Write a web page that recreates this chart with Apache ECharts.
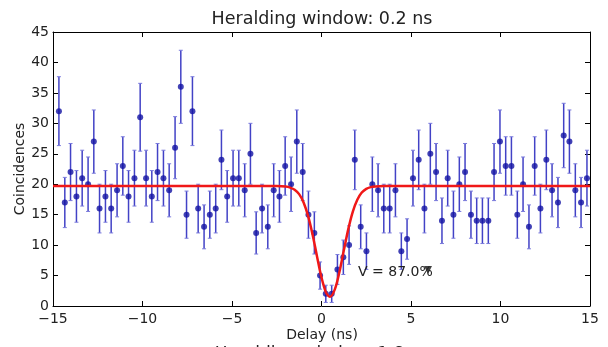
<!DOCTYPE html>
<html>
<head>
<meta charset="utf-8">
<script src="https://cdn.jsdelivr.net/npm/echarts@6/dist/echarts.min.js"></script>
<style>
    html, body { margin: 0; padding: 0; background: #fff; }
    #chart-dip { width: 608px; height: 347px; }
</style>
</head>
<body>
<div id="chart-dip"></div>
<script>
// 延迟 (ns)
var delays = [
    -14.67, -14.34, -14.02, -13.69, -13.37, -13.04, -12.72, -12.40, -12.07, -11.75,
    -11.42, -11.10, -10.78, -10.45, -10.13, -9.80, -9.48, -9.16, -8.83, -8.51,
    -8.18, -7.86, -7.54, -7.21, -6.89, -6.56, -6.24, -5.91, -5.59, -5.27,
    -4.94, -4.62, -4.29, -3.97, -3.65, -3.32, -3.00, -2.67, -2.35, -2.03,
    -1.70, -1.38, -1.05, -0.73, -0.40, -0.08, 0.24, 0.57, 0.89, 1.22,
    1.54, 1.86, 2.19, 2.51, 2.84, 3.16, 3.48, 3.81, 4.13, 4.46,
    4.78, 5.11, 5.43, 5.75, 6.08, 6.40, 6.73, 7.05, 7.37, 7.70,
    8.02, 8.35, 8.67, 8.99, 9.32, 9.64, 9.97, 10.29, 10.61, 10.94,
    11.26, 11.59, 11.91, 12.23, 12.56, 12.88, 13.21, 13.53, 13.85, 14.18,
    14.50, 14.83
];
// 符合计数
var counts = [
    32, 17, 22, 18, 21, 20, 27, 16, 18, 16,
    19, 23, 18, 21, 31, 21, 18, 22, 21, 19,
    26, 36, 15, 32, 16, 13, 15, 16, 24, 18,
    21, 21, 19, 25, 12, 16, 13, 19, 18, 23,
    20, 27, 22, 15, 12, 5, 2, 2, 6, 8,
    10, 24, 13, 9, 20, 19, 16, 16, 19, 9,
    11, 21, 24, 16, 25, 22, 14, 21, 15, 20,
    22, 15, 14, 14, 14, 22, 27, 23, 23, 15,
    20, 13, 23, 16, 24, 19, 17, 28, 27, 19,
    17, 21
];
// 拟合曲线
var fitX = [-15, -2.5, -2.0, -1.75, -1.5, -1.25, -1.0, -0.75, -0.5, -0.25, 0, 0.25, 0.47,
    0.75, 1.0, 1.25, 1.5, 1.75, 2.0, 2.25, 2.5, 2.75, 3.0, 3.5, 15];
var fitY = [19.7, 19.7, 19.62, 19.45, 19.11, 18.37, 17.0, 14.8, 11.75, 8.14, 4.68, 2.23, 1.5,
    2.77, 5.58, 9.18, 12.67, 15.51, 17.46, 18.63, 19.24, 19.52, 19.64, 19.7, 19.7];
var xTicks = [-15, -10, -5, 0, 5, 10, 15];
var yTicks = [0, 5, 10, 15, 20, 25, 30, 35, 40, 45];
var visText = 'V = 87.0%';
var visPos = [2.04, 5.6];
var visMarker = [[5.95, 5.9]];

var FONT = 'DejaVu Sans';

function minusFmt(v) {
    return String(v).replace('-', '\u2212');
}

function getChartDip() {
    var chart = echarts.init(document.getElementById('chart-dip'));

    var points = [], bars = [], fit = [];
    for (var i = 0; i < delays.length; i++) {
        points.push([delays[i], counts[i]]);
        // 泊松误差 sqrt(N)
        bars.push([delays[i], counts[i], Math.sqrt(counts[i])]);
    }
    for (var j = 0; j < fitX.length; j++) {
        fit.push([fitX[j], fitY[j]]);
    }

    var axisCommon = {
        type: 'value',
        axisLine: { show: true, onZero: false, lineStyle: { color: '#000', width: 1 } },
        axisTick: { show: true, inside: true, length: 5, lineStyle: { color: '#000' } },
        splitLine: { show: false }
    };

    var option = {
        animation: false,
        backgroundColor: '#fff',
        grid: {
            left: 53,
            right: 18,
            top: 32,
            bottom: 41
        },
        xAxis: [
            Object.assign({}, axisCommon, {
                min: xTicks[0],
                max: xTicks[xTicks.length - 1],
                interval: 5,
                position: 'bottom',
                axisLabel: {
                    color: '#222',
                    fontSize: 14,
                    fontFamily: FONT,
                    margin: 6,
                    formatter: minusFmt
                }
            }),
            Object.assign({}, axisCommon, {
                min: xTicks[0],
                max: xTicks[xTicks.length - 1],
                interval: 5,
                position: 'top',
                axisLabel: { show: false }
            })
        ],
        yAxis: [
            Object.assign({}, axisCommon, {
                min: yTicks[0],
                max: yTicks[yTicks.length - 1],
                interval: 5,
                position: 'left',
                axisLabel: {
                    color: '#222',
                    fontSize: 14,
                    fontFamily: FONT,
                    margin: 4
                }
            }),
            Object.assign({}, axisCommon, {
                min: yTicks[0],
                max: yTicks[yTicks.length - 1],
                interval: 5,
                position: 'right',
                axisLabel: { show: false }
            })
        ],
        series: [{
            // 误差棒
            type: 'custom',
            data: bars,
            z: 2,
            renderItem: function (params, api) {
                var x = api.value(0), y = api.value(1), e = api.value(2);
                var top = api.coord([x, y + e]);
                var bot = api.coord([x, y - e]);
                var style = { stroke: '#4242c6', lineWidth: 1.5 };
                return {
                    type: 'group',
                    children: [
                        { type: 'line', shape: { x1: top[0], y1: top[1], x2: bot[0], y2: bot[1] }, style: style },
                        { type: 'line', shape: { x1: top[0] - 2, y1: top[1], x2: top[0] + 2, y2: top[1] }, style: { stroke: '#7a7adc', lineWidth: 1 } },
                        { type: 'line', shape: { x1: bot[0] - 2, y1: bot[1], x2: bot[0] + 2, y2: bot[1] }, style: { stroke: '#7a7adc', lineWidth: 1 } }
                    ]
                };
            }
        }, {
            type: 'scatter',
            data: points,
            symbol: 'circle',
            symbolSize: 6,
            z: 3,
            itemStyle: { color: '#1212a2' }
        }, {
            // 拟合
            type: 'line',
            data: fit,
            smooth: 0.3,
            showSymbol: false,
            z: 4,
            lineStyle: { color: '#f01818', width: 2.5 }
        }, {
            type: 'scatter',
            data: visMarker,
            symbol: 'triangle',
            symbolRotate: 180,
            symbolSize: 8,
            z: 6,
            itemStyle: { color: '#111' }
        }]
    };

    chart.setOption(option);

    // 标注文字, 按数据坐标定位
    var p = chart.convertToPixel({ gridIndex: 0 }, visPos);
    chart.setOption({
        graphic: [{
            type: 'text',
            x: 322,
            y: 19,
            style: {
                text: 'Heralding window: 0.2 ns',
                fill: '#222',
                font: '17.5px "' + FONT + '"',
                textAlign: 'center',
                textVerticalAlign: 'middle'
            }
        }, {
            type: 'text',
            x: 322,
            y: 346,
            z: -10,
            style: {
                text: 'Heralding window: 1.8 ns',
                fill: '#222',
                font: '17px "' + FONT + '"',
                textAlign: 'center',
                textVerticalAlign: 'top'
            }
        }, {
            // x轴标题
            type: 'text',
            x: 322,
            y: 335,
            z: 5,
            style: {
                text: 'Delay (ns)',
                fill: '#222',
                font: '14px "' + FONT + '"',
                textAlign: 'center',
                textVerticalAlign: 'middle',
                backgroundColor: '#fff',
                padding: [1, 3, 2, 3]
            }
        }, {
            // y轴标题
            type: 'text',
            x: 20,
            y: 169,
            rotation: Math.PI / 2,
            style: {
                text: 'Coincidences',
                fill: '#222',
                font: '14px "' + FONT + '"',
                textAlign: 'center',
                textVerticalAlign: 'middle'
            }
        }, {
            type: 'text',
            x: p[0],
            y: p[1],
            z: 10,
            style: {
                text: visText,
                fill: '#222',
                font: '14px "' + FONT + '"',
                textAlign: 'left',
                textVerticalAlign: 'middle'
            }
        }]
    });
}

getChartDip();
</script>
</body>
</html>
